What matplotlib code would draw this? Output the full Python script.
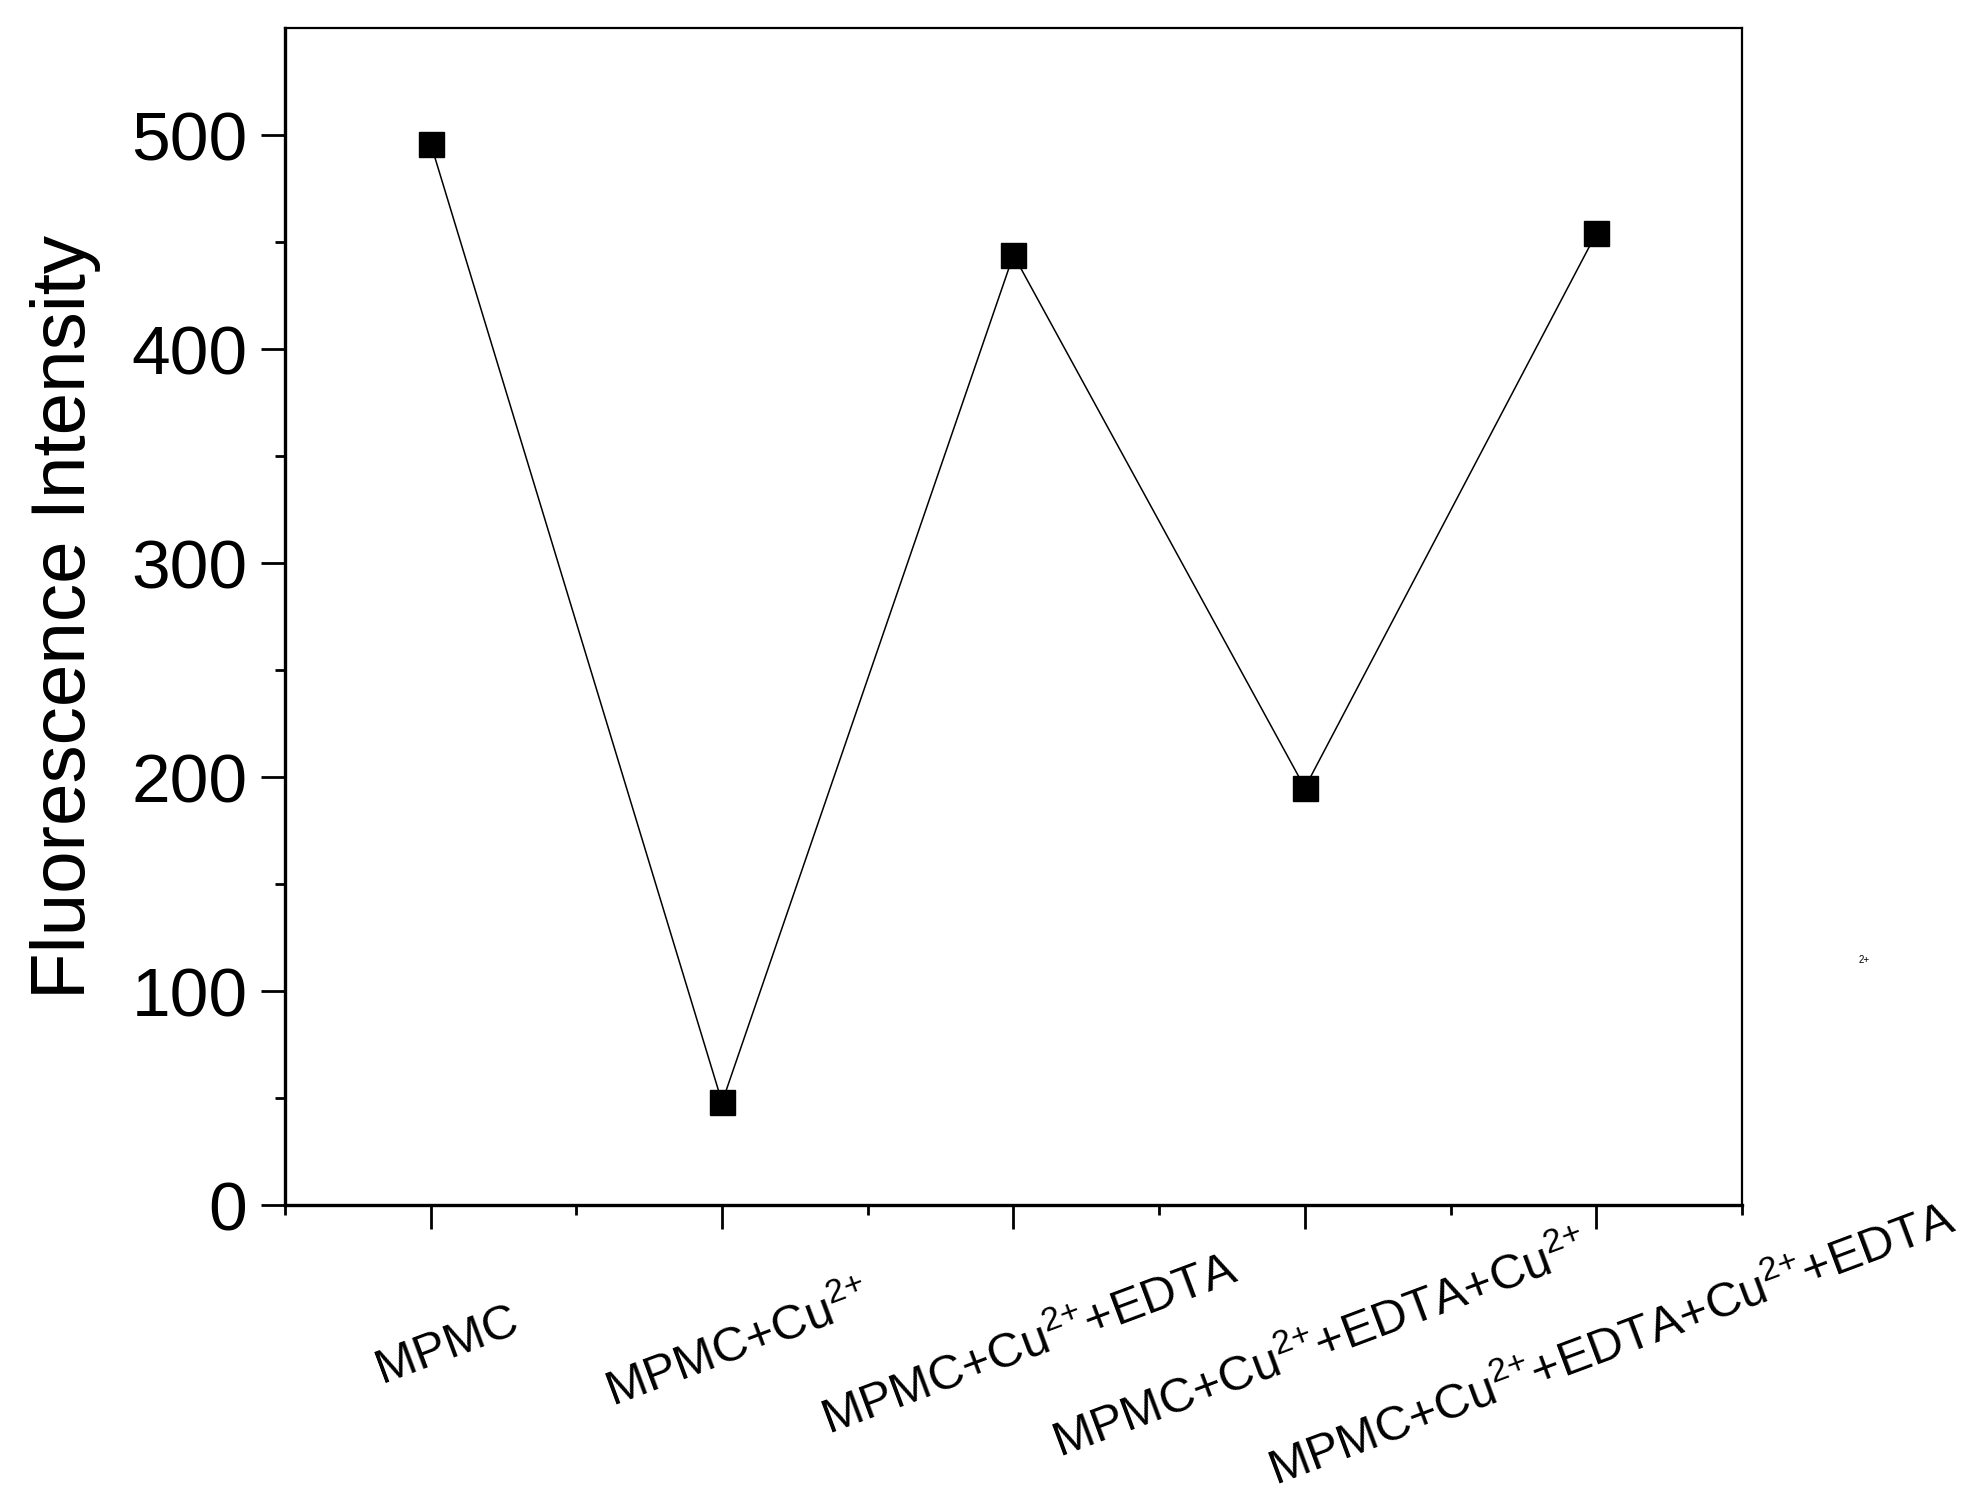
import matplotlib
matplotlib.use('Agg')
import matplotlib.pyplot as plt
import matplotlib.transforms as mtransforms
import numpy as np

plt.rcParams['font.family'] = ['Liberation Sans', 'DejaVu Sans']
plt.rcParams['mathtext.fontset'] = 'custom'
plt.rcParams['mathtext.rm'] = 'Liberation Sans'
plt.rcParams['mathtext.it'] = 'Liberation Sans:italic'
plt.rcParams['mathtext.bf'] = 'Liberation Sans:bold'

# data
sup = '$^{2{+}}$'
samples = ['MPMC',
           'MPMC+Cu' + sup,
           'MPMC+Cu' + sup + '+EDTA',
           'MPMC+Cu' + sup + '+EDTA+Cu' + sup,
           'MPMC+Cu' + sup + '+EDTA+Cu' + sup + '+EDTA']
intensity = [496, 48, 444, 195, 454]
y_ticks = [0, 100, 200, 300, 400, 500]

x = np.arange(1, len(samples) + 1)

fig = plt.figure(figsize=(19.75, 15.08), dpi=100)
ax = fig.add_axes([0.1443, 0.2009, 0.7377, 0.7805])

ax.plot(x, intensity, color='black', linewidth=1.1, marker='s', markersize=18,
        markerfacecolor='black', markeredgecolor='black')

ax.set_xlim(0.5, 5.5)
ax.set_ylim(0, 550)
ax.set_yticks(y_ticks)
ax.set_yticks(np.arange(50, 550, 100), minor=True)
ax.set_xticks(x)
ax.set_xticklabels([])
ax.set_xticks(np.arange(0.5, 6.0, 1.0), minor=True)

ax.tick_params(axis='both', which='major', direction='out', length=17, width=2,
               labelsize=50, pad=10)
ax.tick_params(axis='both', which='minor', direction='out', length=7.5, width=2)
ax.tick_params(top=False, right=False, which='both')

for side in ['left', 'bottom']:
    ax.spines[side].set_linewidth(2.4)
for side in ['top', 'right']:
    ax.spines[side].set_linewidth(1.6)

ax.set_ylabel('Fluorescence Intensity', fontsize=55)
ax.yaxis.set_label_coords(-0.126, 0.5)

# rotated category labels under the axis
offset = mtransforms.ScaledTranslation(16 / 100, -140 / 100, fig.dpi_scale_trans)
for xi, name in zip(x, samples):
    ax.text(xi, 0, name, transform=ax.get_xaxis_transform() + offset,
            rotation=20.5, rotation_mode='anchor', ha='center', va='center',
            fontsize=35)

# stray superscript in the original image
fig.text(0.9408, 0.3615, '2+', fontsize=7)

fig.savefig('out.png', dpi=100)
